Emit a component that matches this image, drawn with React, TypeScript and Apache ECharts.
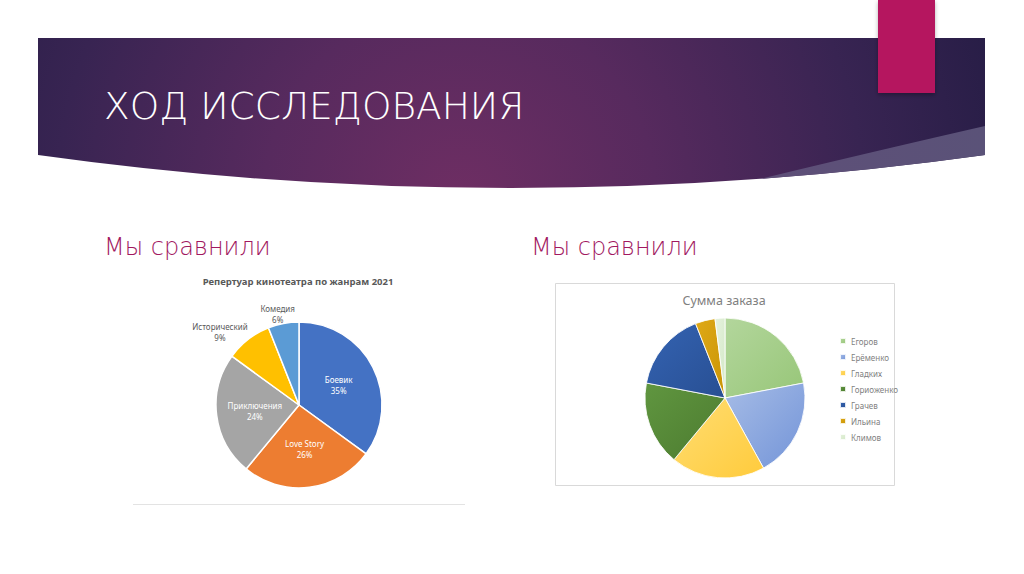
import React, { useEffect, useRef } from 'react';
import * as echarts from 'echarts';

// ---- data ----
const slideTitle = 'ХОД ИССЛЕДОВАНИЯ';
const subtitleText = 'Мы сравнили';

const genreChartTitle = 'Репертуар кинотеатра по жанрам 2021';
const genreNames = ['Боевик', 'Love Story', 'Приключения', 'Исторический', 'Комедия'];
const genreValues = [35, 26, 24, 9, 6];
const genreColors = ['#4472C4', '#ED7D31', '#A5A5A5', '#FFC000', '#5B9BD5'];

const orderChartTitle = 'Сумма заказа';
const clientNames = ['Егоров', 'Ерёменко', 'Гладких', 'Гориоженко', 'Грачев', 'Ильина', 'Климов'];
const orderValues = [22, 20, 19, 17, 16, 4, 2];
const clientColorsLight = ['#B3D69C', '#A6BCE6', '#FFDD72', '#609640', '#3463B2', '#DFA917', '#E6F2DE'];
const clientColorsDark = ['#97C678', '#7394D8', '#FFCB3C', '#4C7B2F', '#284F93', '#C99405', '#D3E8C6'];

// ---- shapes for the slide decoration ----
echarts.graphic.registerShape(
  'slideBanner',
  echarts.graphic.extendPath('M38 38 L985 38 L985 155 Q511 221 38 155 Z', {})
);
echarts.graphic.registerShape(
  'slideWedge',
  echarts.graphic.extendPath('M760 178.9 Q880 150 985 126 L985 155 Q872.4 170.7 760 178.9 Z', {})
);

const sansFont = '"Noto Sans", "DejaVu Sans", sans-serif';
const thinFont = '"DejaVu Sans", "Noto Sans", sans-serif';

export default function App() {
  const ref = useRef<HTMLDivElement>(null);

  useEffect(() => {
    if (!ref.current) return;
    const chart = echarts.init(ref.current, undefined, { renderer: 'svg' });
    const total = genreValues.reduce((a, b) => a + b, 0);

    const option: any = {
      animation: false,
      backgroundColor: '#ffffff',
      graphic: [
        {
          type: 'slideBanner',
          z: -10,
          silent: true,
          style: {
            fill: {
              type: 'radial',
              x: 460,
              y: 200,
              r: 560,
              global: true,
              colorStops: [
                { offset: 0, color: '#6E2E63' },
                { offset: 0.35, color: '#572A5E' },
                { offset: 0.72, color: '#382452' },
                { offset: 1, color: '#271D46' },
              ],
            },
          },
        },
        {
          type: 'slideWedge',
          z: -8,
          silent: true,
          style: {
            fill: {
              type: 'linear',
              x: 760,
              y: 0,
              x2: 985,
              y2: 0,
              global: true,
              colorStops: [
                { offset: 0, color: '#5E4F78' },
                { offset: 1, color: '#5A5278' },
              ],
            },
          },
        },
        {
          type: 'rect',
          z: -7,
          silent: true,
          shape: { x: 878, y: 0, width: 57, height: 93 },
          style: { fill: '#B5125F', shadowBlur: 4, shadowOffsetY: 2, shadowColor: 'rgba(0,0,0,0.3)' },
        },
        {
          type: 'text',
          x: 104,
          y: 106,
          style: {
            text: slideTitle,
            fill: '#ffffff',
            font: `200 37.5px ${thinFont}`,
            verticalAlign: 'middle',
          },
        },
        {
          type: 'text',
          x: 104,
          y: 247,
          style: {
            text: subtitleText,
            fill: '#A1185F',
            font: `200 24px ${thinFont}`,
            verticalAlign: 'middle',
          },
        },
        {
          type: 'text',
          x: 531,
          y: 247,
          style: {
            text: subtitleText,
            fill: '#A1185F',
            font: `200 24px ${thinFont}`,
            verticalAlign: 'middle',
          },
        },
        {
          type: 'text',
          x: 298,
          y: 281,
          style: {
            text: genreChartTitle,
            fill: '#595959',
            font: `bold 9.5px ${sansFont}`,
            align: 'center',
            verticalAlign: 'middle',
          },
        },
        {
          type: 'line',
          z: -5,
          silent: true,
          shape: { x1: 133, y1: 504.5, x2: 465, y2: 504.5 },
          style: { stroke: '#E3E3E3', lineWidth: 1 },
        },
        {
          type: 'rect',
          z: -5,
          silent: true,
          shape: { x: 555.5, y: 283.5, width: 339, height: 202 },
          style: { fill: '#ffffff', stroke: '#D9D9D9', lineWidth: 1 },
        },
        {
          type: 'text',
          x: 724,
          y: 300,
          style: {
            text: orderChartTitle,
            fill: '#808080',
            font: `12.5px ${sansFont}`,
            align: 'center',
            verticalAlign: 'middle',
          },
        },
      ],
      legend: {
        data: clientNames,
        orient: 'vertical',
        left: 834,
        top: 331,
        itemWidth: 6,
        itemHeight: 6,
        itemGap: 6,
        icon: 'rect',
        selectedMode: false,
        textStyle: { fontSize: 8, color: '#7F7F7F', fontFamily: sansFont, lineHeight: 10 },
      },
      series: [
        {
          type: 'pie',
          center: [299, 405],
          radius: 83,
          startAngle: 90,
          clockwise: true,
          avoidLabelOverlap: false,
          percentPrecision: 0,
          silent: true,
          emphasis: { disabled: true },
          itemStyle: { borderColor: '#ffffff', borderWidth: 1.5 },
          label: {
            formatter: '{b}\n{d}%',
            fontSize: 8,
            lineHeight: 11,
            fontFamily: sansFont,
          },
          labelLine: { show: true, length: 6, length2: 0, lineStyle: { opacity: 0 } },
          labelLayout: (p: any) => {
            const pts = p.labelLinePoints;
            if (!pts || pts.length < 2) return {};
            const vx = pts[1][0] - pts[0][0];
            const vy = pts[1][1] - pts[0][1];
            const len = Math.sqrt(vx * vx + vy * vy) || 1;
            const ux = vx / len;
            const uy = vy / len;
            return {
              x: pts[1][0] + ux * p.labelRect.width * 0.72,
              y: pts[1][1] + uy * p.labelRect.height * 0.15,
              align: 'center',
              verticalAlign: 'middle',
            };
          },
          data: genreNames.map((name, i) => {
            const outside = (genreValues[i] / total) * 100 < 10;
            return {
              name,
              value: genreValues[i],
              itemStyle: { color: genreColors[i] },
              label: outside
                ? { position: 'outside', color: '#595959', align: 'center' }
                : { position: 'inside', color: '#ffffff' },
            };
          }),
        },
        {
          type: 'pie',
          center: [725, 398],
          radius: 80,
          startAngle: 90,
          clockwise: true,
          silent: true,
          emphasis: { disabled: true },
          label: { show: false },
          labelLine: { show: false },
          itemStyle: { borderColor: 'rgba(255,255,255,0.85)', borderWidth: 1 },
          data: clientNames.map((name, i) => ({
            name,
            value: orderValues[i],
            itemStyle: {
              color: {
                type: 'linear',
                x: 0,
                y: 0,
                x2: 1,
                y2: 1,
                colorStops: [
                  { offset: 0, color: clientColorsLight[i] },
                  { offset: 1, color: clientColorsDark[i] },
                ],
              },
            },
          })),
        },
      ],
    };

    chart.setOption(option);
    return () => chart.dispose();
  }, []);

  return (
    <div
      ref={ref}
      style={{ position: 'fixed', left: 0, top: 0, width: 1024, height: 574, background: '#fff' }}
    />
  );
}
